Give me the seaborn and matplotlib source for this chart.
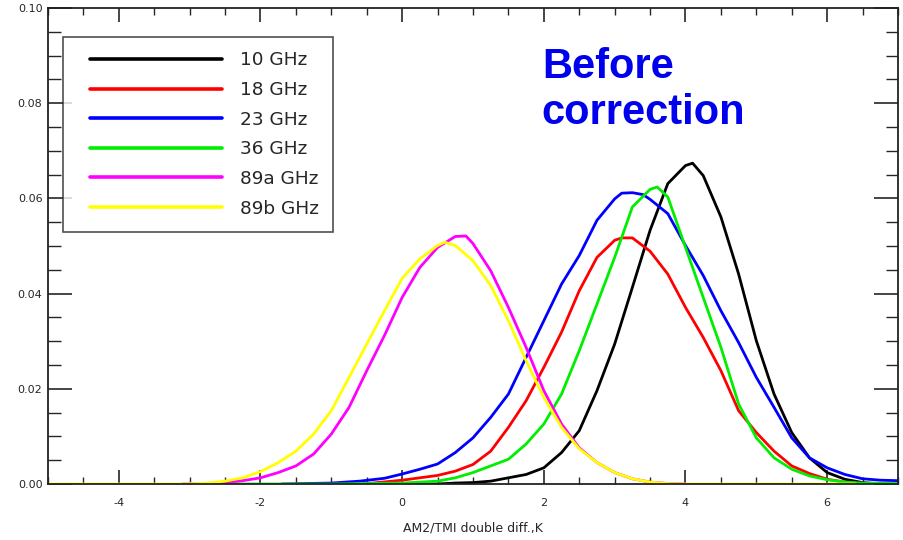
import numpy as np
import pandas as pd
import matplotlib
matplotlib.use("Agg")
import matplotlib.pyplot as plt
import seaborn as sns
from matplotlib.ticker import MultipleLocator
from matplotlib.legend_handler import HandlerLine2D

# Normalised histograms of AM2/TMI double differences per channel
bands = ["10 GHz", "18 GHz", "23 GHz", "36 GHz", "89a GHz", "89b GHz"]
colors = ["#000000", "#ff0000", "#0000ff", "#00ee00", "#ff00ff", "#ffff00"]

x_10 = [-0.5, 0.0, 0.5, 0.75, 1.0, 1.25, 1.5, 1.75, 2.0, 2.25, 2.5, 2.75, 3.0, 3.25, 3.5,
        3.75, 4.0, 4.1, 4.25, 4.5, 4.75, 5.0, 5.25, 5.5, 5.75, 6.0, 6.25, 6.5, 6.75]
y_10 = [0.0, 0.0, 0.0, 0.0002, 0.0003, 0.0006, 0.0013, 0.0020, 0.0034, 0.0066, 0.0112, 0.0196,
        0.0294, 0.0413, 0.0533, 0.0631, 0.0669, 0.0674, 0.0648, 0.0561, 0.0441, 0.0301,
        0.0189, 0.0108, 0.0055, 0.0024, 0.0010, 0.0003, 0.0]

x_18 = [-0.55, 0.0, 0.25, 0.5, 0.75, 1.0, 1.25, 1.5, 1.75, 2.0, 2.25, 2.5, 2.75, 3.0, 3.1,
        3.25, 3.5, 3.75, 4.0, 4.25, 4.5, 4.75, 5.0, 5.25, 5.5, 5.75, 6.0, 6.25, 6.45]
y_18 = [0.0, 0.0008, 0.0013, 0.0018, 0.0027, 0.0041, 0.0069, 0.0119, 0.0175, 0.0245, 0.0319,
        0.0406, 0.0476, 0.0512, 0.0517, 0.0517, 0.0489, 0.0441, 0.0371, 0.0308, 0.0238,
        0.0154, 0.0108, 0.0069, 0.0038, 0.0022, 0.0010, 0.0004, 0.0001]

x_23 = [-1.7, -1.0, -0.6, -0.25, 0.0, 0.25, 0.5, 0.75, 1.0, 1.25, 1.5, 1.75, 2.0, 2.25, 2.5,
        2.75, 3.0, 3.1, 3.25, 3.4, 3.5, 3.75, 4.0, 4.25, 4.5, 4.75, 5.0, 5.25, 5.5, 5.75,
        6.0, 6.25, 6.5, 6.75, 7.0]
y_23 = [0.0, 0.0002, 0.0006, 0.0012, 0.0021, 0.0031, 0.0042, 0.0066, 0.0097, 0.0140, 0.0189,
        0.0266, 0.0343, 0.0420, 0.0480, 0.0554, 0.0599, 0.0611, 0.0612, 0.0608, 0.0598,
        0.0568, 0.0501, 0.0438, 0.0364, 0.0297, 0.0224, 0.0161, 0.0097, 0.0055, 0.0034,
        0.0020, 0.0011, 0.0008, 0.0007]

x_36 = [-2.8, -1.0, 0.0, 0.5, 0.75, 1.0, 1.25, 1.5, 1.75, 2.0, 2.25, 2.5, 2.75, 3.0, 3.25,
        3.5, 3.6, 3.75, 4.0, 4.25, 4.5, 4.75, 5.0, 5.25, 5.5, 5.75, 6.0, 6.25, 6.5, 7.0]
y_36 = [0.0, 0.0, 0.0002, 0.0006, 0.0013, 0.0024, 0.0038, 0.0052, 0.0084, 0.0126, 0.0189,
        0.0280, 0.0378, 0.0476, 0.0582, 0.0619, 0.0624, 0.0603, 0.0497, 0.0392, 0.0287,
        0.0168, 0.0097, 0.0055, 0.0031, 0.0017, 0.0009, 0.0004, 0.0002, 0.0001]

x_89a = [-3.1, -2.75, -2.5, -2.25, -2.0, -1.75, -1.5, -1.25, -1.0, -0.75, -0.5, -0.25, 0.0,
         0.25, 0.5, 0.75, 0.9, 1.0, 1.25, 1.5, 1.75, 2.0, 2.25, 2.5, 2.75, 3.0, 3.25, 3.5,
         3.75, 4.0]
y_89a = [0.0, 0.0001, 0.0003, 0.0007, 0.0013, 0.0024, 0.0038, 0.0063, 0.0105, 0.0161, 0.0238,
         0.0312, 0.0392, 0.0455, 0.0497, 0.0520, 0.0521, 0.0505, 0.0448, 0.0371, 0.0287,
         0.0196, 0.0126, 0.0076, 0.0045, 0.0024, 0.0011, 0.0004, 0.0001, 0.0]

x_89b = [-5.0, -3.1, -2.75, -2.5, -2.25, -2.0, -1.75, -1.5, -1.25, -1.0, -0.75, -0.5, -0.25,
         0.0, 0.25, 0.5, 0.6, 0.75, 1.0, 1.25, 1.5, 1.75, 2.0, 2.25, 2.5, 2.75, 3.0, 3.25,
         3.5, 3.75, 4.0, 6.4]
y_89b = [0.0, 0.0, 0.0002, 0.0006, 0.0013, 0.0026, 0.0045, 0.0069, 0.0105, 0.0154, 0.0224,
         0.0294, 0.0364, 0.0432, 0.0473, 0.0501, 0.0508, 0.0501, 0.0469, 0.0417, 0.0343,
         0.0259, 0.0182, 0.0119, 0.0074, 0.0045, 0.0024, 0.0011, 0.0004, 0.0001, 0.0, 0.0]

x_ticks = [-4, -2, 0, 2, 4, 6]
y_ticks = [0.00, 0.02, 0.04, 0.06, 0.08, 0.10]

series = [(x_10, y_10), (x_18, y_18), (x_23, y_23), (x_36, y_36), (x_89a, y_89a), (x_89b, y_89b)]
frames = []
for band, (xs, ys) in zip(bands, series):
    frames.append(pd.DataFrame({"diff": xs, "freq": ys, "band": band}))
df = pd.concat(frames, ignore_index=True)

sns.set_theme(style="white")
plt.rcParams["font.family"] = ["DejaVu Sans"]
plt.rcParams["axes.unicode_minus"] = False


class IndentedLine(HandlerLine2D):
    """Legend line sample with extra blank space on its left."""

    def __init__(self, indent_px, **kw):
        super().__init__(**kw)
        self.indent_px = indent_px

    def create_artists(self, legend, orig_handle, xdescent, ydescent, width, height,
                       fontsize, trans):
        artists = super().create_artists(legend, orig_handle, xdescent, ydescent, width,
                                         height, fontsize, trans)
        for art in artists:
            xd = np.asarray(art.get_xdata(), dtype=float)
            if xd.size > 1:
                xd = xd.copy()
                xd[0] = xd[0] + self.indent_px
                art.set_xdata(xd)
        return artists


fig = plt.figure(figsize=(9.04, 5.40), dpi=100)
ax = fig.add_axes([48 / 904, 1 - 484 / 540, 850 / 904, 476 / 540])

sns.lineplot(data=df, x="diff", y="freq", hue="band", hue_order=bands,
             palette=dict(zip(bands, colors)), linewidth=2.0, sort=True,
             estimator=None, ax=ax)

ax.set_xlim(-5, 7)
ax.set_ylim(0, 0.10)
ax.set_xticks(x_ticks)
ax.set_yticks(y_ticks)
ax.set_yticklabels([f"{v:.2f}" for v in y_ticks])
ax.xaxis.set_minor_locator(MultipleLocator(0.5))
ax.yaxis.set_minor_locator(MultipleLocator(0.005))
ax.tick_params(axis="x", which="major", direction="in", length=10, width=1.2,
               top=True, bottom=True, labelsize=8, pad=10)
ax.tick_params(axis="x", which="minor", direction="in", length=5, width=1.0,
               top=True, bottom=True)
ax.tick_params(axis="y", which="major", direction="in", length=17, width=1.2,
               left=True, right=True, labelsize=8, pad=4)
ax.tick_params(axis="y", which="minor", direction="in", length=9, width=1.0,
               left=True, right=True)
for sp in ax.spines.values():
    sp.set_color("#222222")
    sp.set_linewidth(1.3)

ax.set_xlabel("AM2/TMI double diff.,K", fontsize=9, labelpad=10)
ax.set_ylabel("")

handles, labels = ax.get_legend_handles_labels()
fs = 13.3
indent = 9
leg = ax.legend(handles, labels, loc="upper left",
                bbox_to_anchor=((63 - 48) / 850, (484 - 37) / 476),
                borderaxespad=0, frameon=True, fancybox=False,
                fontsize=fs, handlelength=(136 + indent) / (fs * 100 / 72),
                handletextpad=0.93, labelspacing=0.63, borderpad=0.78,
                handler_map={h: IndentedLine(indent) for h in handles})
leg.get_frame().set_edgecolor("#222222")
leg.get_frame().set_linewidth(1.2)
for line in leg.get_lines():
    line.set_linewidth(2.6)

ax.text(0.581, 0.918, "Before\ncorrection", transform=ax.transAxes,
        color="#0000ee", fontsize=30, fontweight="bold", family="Liberation Sans",
        va="top", ha="left", linespacing=1.18)

fig.savefig("out.png", dpi=100)
